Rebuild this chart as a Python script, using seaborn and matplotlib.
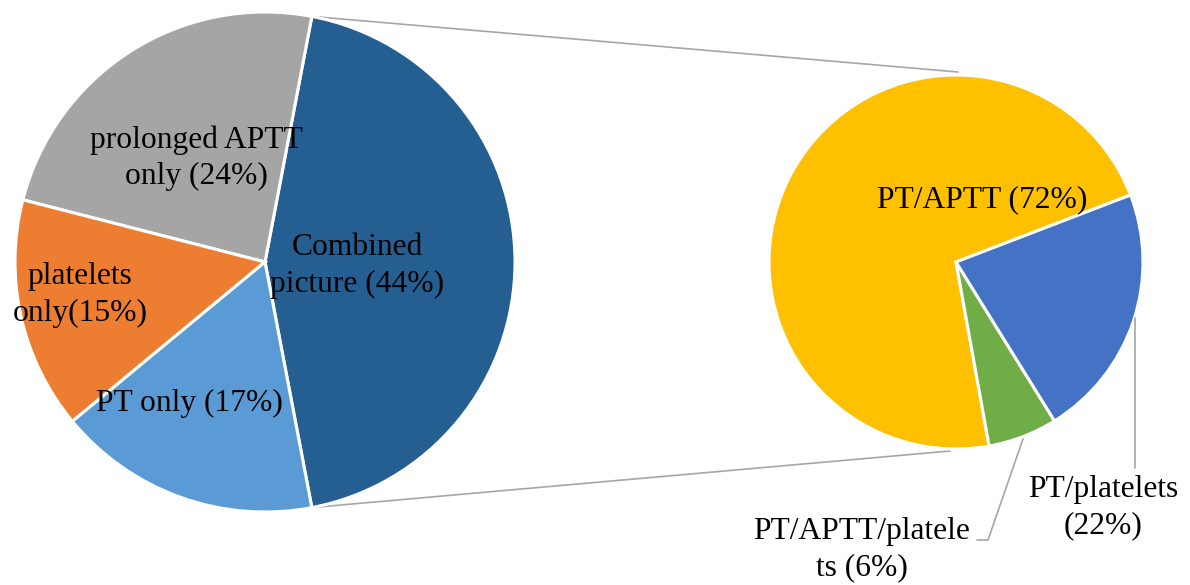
import numpy as np
import matplotlib
matplotlib.use("Agg")
import matplotlib.pyplot as plt
import seaborn as sns

# ---- data ----
main_labels = ["Combined\npicture (44%)", "prolonged APTT\nonly (24%)", "platelets\nonly(15%)", "PT only (17%)"]
main_values = [44, 24, 15, 17]
main_colors = ["#255E91", "#A5A5A5", "#ED7D31", "#5B9BD5"]

sub_labels = ["PT/APTT (72%)", "PT/APTT/platele\nts (6%)", "PT/platelets\n(22%)"]
sub_values = [72, 6, 22]
sub_colors = ["#FFC000", "#70AD47", "#4472C4"]

sns.set_theme(style="white")
plt.rcParams['font.family'] = ['Liberation Serif', 'DejaVu Serif']

W, H = 1190, 585
fig = plt.figure(figsize=(W / 100, H / 100), dpi=100)
ax = fig.add_axes([0, 0, 1, 1])
ax.set_xlim(0, W)
ax.set_ylim(0, H)
ax.set_aspect("equal")
ax.axis("off")

def py(y):
    return H - y

# left pie
c1 = (265, py(262)); r1 = 250
start1 = -360 * main_values[0] / sum(main_values) / 2
ax.pie(main_values, colors=main_colors, startangle=start1, center=c1, radius=r1,
       wedgeprops=dict(edgecolor="white", linewidth=2.2), frame=True)

# right pie
c2 = (956, py(262)); r2 = 187
ax.pie(sub_values, colors=sub_colors, startangle=21, center=c2, radius=r2,
       wedgeprops=dict(edgecolor="white", linewidth=2.2), frame=True)

ax.set_xlim(0, W)
ax.set_ylim(0, H)
ax.axis("off")

# connector lines
a = np.deg2rad(-start1)
top_l = (c1[0] + r1 * np.cos(a), c1[1] + r1 * np.sin(a))
bot_l = (c1[0] + r1 * np.cos(-a), c1[1] + r1 * np.sin(-a))
lc = "#A6A6A6"
ax.plot([top_l[0], 958], [top_l[1], py(72)], color=lc, lw=1.2, zorder=0)
ax.plot([bot_l[0], 950], [bot_l[1], py(451)], color=lc, lw=1.2, zorder=0)

fs = 22.7
ls = 1.32
# left labels
ax.text(357, py(266), main_labels[0], ha="center", va="center", fontsize=fs, linespacing=ls, color="black")
ax.text(196, py(158), main_labels[1], ha="center", va="center", fontsize=fs, linespacing=ls, color="black")
ax.text(80, py(295), main_labels[2], ha="center", va="center", fontsize=fs, linespacing=ls, color="black")
ax.text(189, py(403), main_labels[3], ha="center", va="center", fontsize=fs, linespacing=ls, color="black")

# right labels
ax.text(982, py(200), sub_labels[0], ha="center", va="center", fontsize=fs, linespacing=ls, color="black")
ax.text(862, py(550), sub_labels[1], ha="center", va="center", fontsize=fs, linespacing=ls, color="black")
ax.text(1103, py(508), sub_labels[2], ha="center", va="center", fontsize=fs, linespacing=ls, color="black")

# leader lines
xl = 1135
yedge = c2[1] - np.sqrt(r2 ** 2 - (xl - c2[0]) ** 2)
ax.plot([xl, xl], [yedge - 2, py(468)], color=lc, lw=1.2)
ax.plot([1023, 988, 977], [py(439), py(540), py(540)], color=lc, lw=1.2)

fig.savefig("out.png", dpi=100)
